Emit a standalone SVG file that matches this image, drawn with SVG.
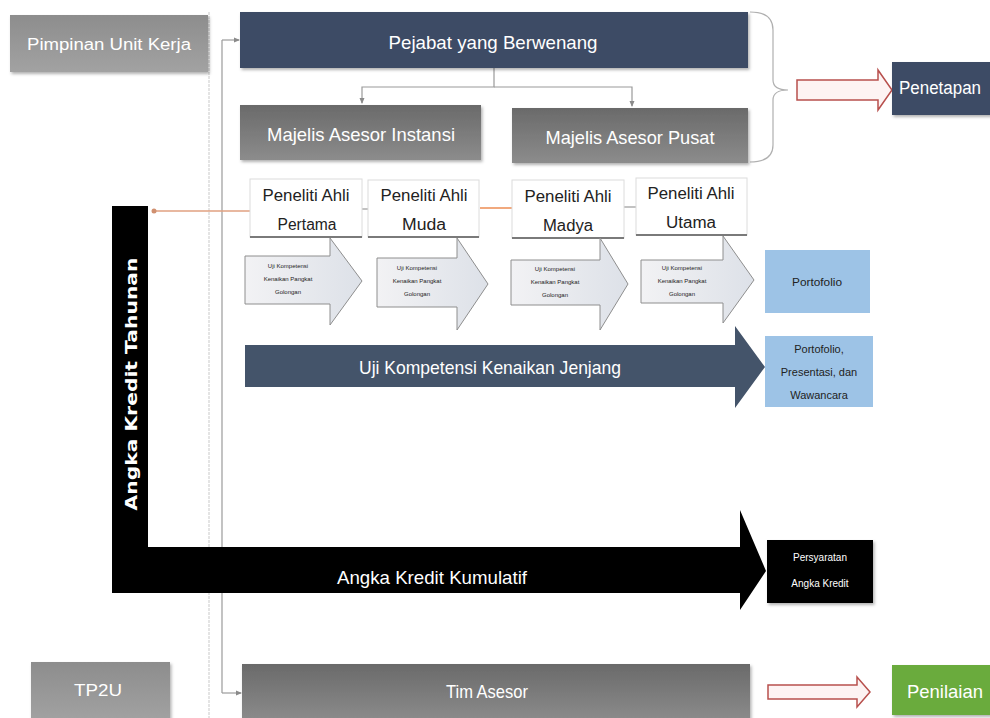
<svg xmlns="http://www.w3.org/2000/svg" width="990" height="718" viewBox="0 0 990 718">
<defs>
<linearGradient id="gGray" x1="0" y1="0" x2="0" y2="1"><stop offset="0" stop-color="#8d8d8d"/><stop offset="1" stop-color="#a2a2a2"/></linearGradient>
<linearGradient id="gGrayD" x1="0" y1="0" x2="0" y2="1"><stop offset="0" stop-color="#6a6a6a"/><stop offset="1" stop-color="#8c8c8c"/></linearGradient>
<linearGradient id="gSmall" x1="0" y1="0" x2="1" y2="0"><stop offset="0" stop-color="#f2f2f4"/><stop offset="1" stop-color="#dde1e8"/></linearGradient>
<filter id="sh" x="-5%" y="-10%" width="112%" height="125%"><feDropShadow dx="1.5" dy="2" stdDeviation="1.5" flood-color="#000" flood-opacity="0.3"/></filter>
<marker id="ah" viewBox="0 0 6 6" refX="5" refY="3" markerWidth="5" markerHeight="5" orient="auto"><path d="M0,0.5 L6,3 L0,5.5 Z" fill="#8a8a8a"/></marker>
<marker id="dot" viewBox="0 0 6 6" refX="3" refY="3" markerWidth="4" markerHeight="4"><circle cx="3" cy="3" r="2.5" fill="#d09070"/></marker>
<style>
.t{font-family:"Liberation Sans","Open Sans",sans-serif;fill:#fff;text-anchor:middle;dominant-baseline:central}
.d{font-family:"Liberation Sans","Open Sans",sans-serif;fill:#222;text-anchor:middle;dominant-baseline:central}
.v{font-family:"DejaVu Sans",sans-serif;font-weight:bold;fill:#fff;text-anchor:middle;dominant-baseline:central}
.ln{fill:none;stroke:#9a9a9a;stroke-width:1.2}
.pen{fill:#fff;stroke:#dcdcdc;stroke-width:1}
.sa{fill:url(#gSmall);stroke:#8e8e8e;stroke-width:1}
.hol{fill:#fdf3f3;stroke:#b8504d;stroke-width:1.5}
.navy{fill:#3e4c65}
.blue{fill:#9dc3e6}
</style>
</defs>

<g id="connectors">
<line x1="209" y1="12" x2="209" y2="718" stroke="#d2d2d2" stroke-width="1.2" stroke-dasharray="3,1"/>
<polyline class="ln" points="222,40 222,693" stroke="#b4b8c8"/>
<line class="ln" x1="222" y1="40" x2="239" y2="40" marker-end="url(#ah)"/>
<line class="ln" x1="222" y1="693" x2="241" y2="693" marker-end="url(#ah)"/>
<polyline class="ln" points="494,68 494,87 362,87 362,103" marker-end="url(#ah)"/>
<polyline class="ln" points="494,87 632,87 632,106" marker-end="url(#ah)"/>
<line x1="250" y1="211" x2="154" y2="211" stroke="#e0a080" stroke-width="1.5" marker-end="url(#dot)"/>
<line x1="362" y1="209" x2="368" y2="209" stroke="#999" stroke-width="1.2"/>
<line x1="480" y1="208" x2="512" y2="208" stroke="#f0a070" stroke-width="1.8"/>
<line x1="624" y1="207" x2="636" y2="207" stroke="#999" stroke-width="1.2"/>
<path d="M750,12 Q773,12 773,30 L773,80 Q773,90 788,90 Q773,90 773,100 L773,145 Q773,162 750,162" fill="none" stroke="#b0b0b0" stroke-width="1.2"/>
<path class="hol" d="M797,80 L878,80 L878,70 L892,90 L878,110 L878,100 L797,100 Z"/>
<path class="hol" d="M768,685 L857,685 L857,677 L870,692 L857,707 L857,699 L768,699 Z"/>
</g>

<g id="pimpinan"><rect x="10" y="15" width="198" height="57" fill="url(#gGray)" filter="url(#sh)"/><text class="t" x="109" y="44" font-size="16" textLength="164" lengthAdjust="spacingAndGlyphs">Pimpinan Unit Kerja</text></g>
<g id="pejabat"><rect class="navy" x="240" y="12" width="508" height="56" filter="url(#sh)"/><text class="t" x="493" y="42" font-size="19" textLength="209" lengthAdjust="spacingAndGlyphs">Pejabat yang Berwenang</text></g>
<g id="majelis-instansi"><rect x="240" y="105" width="241" height="55" fill="url(#gGrayD)" filter="url(#sh)"/><text class="t" x="361" y="134" font-size="19" textLength="188" lengthAdjust="spacingAndGlyphs">Majelis Asesor Instansi</text></g>
<g id="majelis-pusat"><rect x="512" y="108" width="236" height="55" fill="url(#gGrayD)" filter="url(#sh)"/><text class="t" x="630" y="137" font-size="19" textLength="169" lengthAdjust="spacingAndGlyphs">Majelis Asesor Pusat</text></g>
<g id="penetapan"><rect class="navy" x="892" y="62" width="100" height="53" filter="url(#sh)"/><text class="t" x="940" y="88" font-size="18" textLength="82" lengthAdjust="spacingAndGlyphs">Penetapan</text></g>

<g id="pertama"><rect class="pen" x="250" y="179" width="112" height="58"/><line x1="250" y1="237" x2="362" y2="237" stroke="#7a7a7a" stroke-width="2"/><text class="d" x="306" y="195" font-size="16" textLength="87" lengthAdjust="spacingAndGlyphs">Peneliti Ahli</text><text class="d" x="307" y="224" font-size="16" textLength="59" lengthAdjust="spacingAndGlyphs">Pertama</text></g>
<g id="muda"><rect class="pen" x="368" y="180" width="111" height="57"/><line x1="368" y1="237" x2="479" y2="237" stroke="#7a7a7a" stroke-width="2"/><text class="d" x="424" y="195" font-size="16" textLength="87" lengthAdjust="spacingAndGlyphs">Peneliti Ahli</text><text class="d" x="424" y="224" font-size="16" textLength="44" lengthAdjust="spacingAndGlyphs">Muda</text></g>
<g id="madya"><rect class="pen" x="512" y="180" width="112" height="58"/><line x1="512" y1="238" x2="624" y2="238" stroke="#7a7a7a" stroke-width="2"/><text class="d" x="568" y="196" font-size="16" textLength="87" lengthAdjust="spacingAndGlyphs">Peneliti Ahli</text><text class="d" x="568" y="225" font-size="16" textLength="50" lengthAdjust="spacingAndGlyphs">Madya</text></g>
<g id="utama"><rect class="pen" x="636" y="178" width="111" height="57"/><line x1="636" y1="235" x2="747" y2="235" stroke="#7a7a7a" stroke-width="2"/><text class="d" x="691" y="193" font-size="16" textLength="87" lengthAdjust="spacingAndGlyphs">Peneliti Ahli</text><text class="d" x="691" y="222" font-size="16" textLength="50" lengthAdjust="spacingAndGlyphs">Utama</text></g>

<g id="uji1"><path class="sa" d="M245,256 L330,256 L330,238 L362,281 L330,325 L330,304 L245,304 Z"/><text class="d" font-size="6" fill="#555"><tspan x="288" y="266">Uji Kompetensi</tspan><tspan x="288" y="279">Kenaikan Pangkat</tspan><tspan x="288" y="292">Golongan</tspan></text></g>
<g id="uji2"><path class="sa" d="M377,258 L457,258 L457,238 L488,284 L457,330 L457,307 L377,307 Z"/><text class="d" font-size="6" fill="#555"><tspan x="417" y="268">Uji Kompetensi</tspan><tspan x="417" y="281">Kenaikan Pangkat</tspan><tspan x="417" y="294">Golongan</tspan></text></g>
<g id="uji3"><path class="sa" d="M511,260 L600,260 L600,238 L628,284 L600,330 L600,305 L511,305 Z"/><text class="d" font-size="6" fill="#555"><tspan x="555" y="269">Uji Kompetensi</tspan><tspan x="555" y="282">Kenaikan Pangkat</tspan><tspan x="555" y="295">Golongan</tspan></text></g>
<g id="uji4"><path class="sa" d="M641,260 L723,260 L723,236 L754,280 L723,323 L723,303 L641,303 Z"/><text class="d" font-size="6" fill="#555"><tspan x="682" y="268">Uji Kompetensi</tspan><tspan x="682" y="281">Kenaikan Pangkat</tspan><tspan x="682" y="294">Golongan</tspan></text></g>

<g id="portofolio"><rect class="blue" x="765" y="250" width="105" height="63"/><text class="d" x="817" y="282" font-size="11" textLength="50" lengthAdjust="spacingAndGlyphs">Portofolio</text></g>
<g id="jenjang"><path fill="#44546a" d="M245,345 L735,345 L735,326 L765,367 L735,408 L735,387 L245,387 Z"/><text class="t" x="490" y="367" font-size="19" textLength="262" lengthAdjust="spacingAndGlyphs">Uji Kompetensi Kenaikan Jenjang</text></g>
<g id="ppw"><rect class="blue" x="765" y="336" width="108" height="71"/><text class="d" font-size="11"><tspan x="819" y="349">Portofolio,</tspan><tspan x="819" y="372">Presentasi, dan</tspan><tspan x="819" y="395">Wawancara</tspan></text></g>

<g id="angka-kredit"><path fill="#000" d="M112,206 L148,206 L148,547 L740,547 L740,510 L766,571 L740,610 L740,593 L112,593 Z"/>
<text class="v" transform="translate(131,384) rotate(-90)" font-size="16" textLength="253" lengthAdjust="spacingAndGlyphs">Angka Kredit Tahunan</text>
<text class="t" x="432" y="577" font-size="19" textLength="190" lengthAdjust="spacingAndGlyphs">Angka Kredit Kumulatif</text></g>
<g id="persyaratan"><rect fill="#000" x="767" y="540" width="106" height="63" filter="url(#sh)"/><text class="t" font-size="10"><tspan x="820" y="557">Persyaratan</tspan><tspan x="820" y="583">Angka Kredit</tspan></text></g>

<g id="tp2u"><rect x="31" y="662" width="139" height="60" fill="url(#gGray)" filter="url(#sh)"/><text class="t" x="98" y="690" font-size="17" textLength="48" lengthAdjust="spacingAndGlyphs">TP2U</text></g>
<g id="tim-asesor"><rect x="242" y="664" width="508" height="58" fill="url(#gGrayD)" filter="url(#sh)"/><text class="t" x="487" y="691" font-size="19" textLength="82" lengthAdjust="spacingAndGlyphs">Tim Asesor</text></g>
<g id="penilaian"><rect x="892" y="665" width="100" height="50" fill="#6aab3c" filter="url(#sh)"/><text class="t" x="945" y="691" font-size="19" textLength="76" lengthAdjust="spacingAndGlyphs">Penilaian</text></g>
</svg>
